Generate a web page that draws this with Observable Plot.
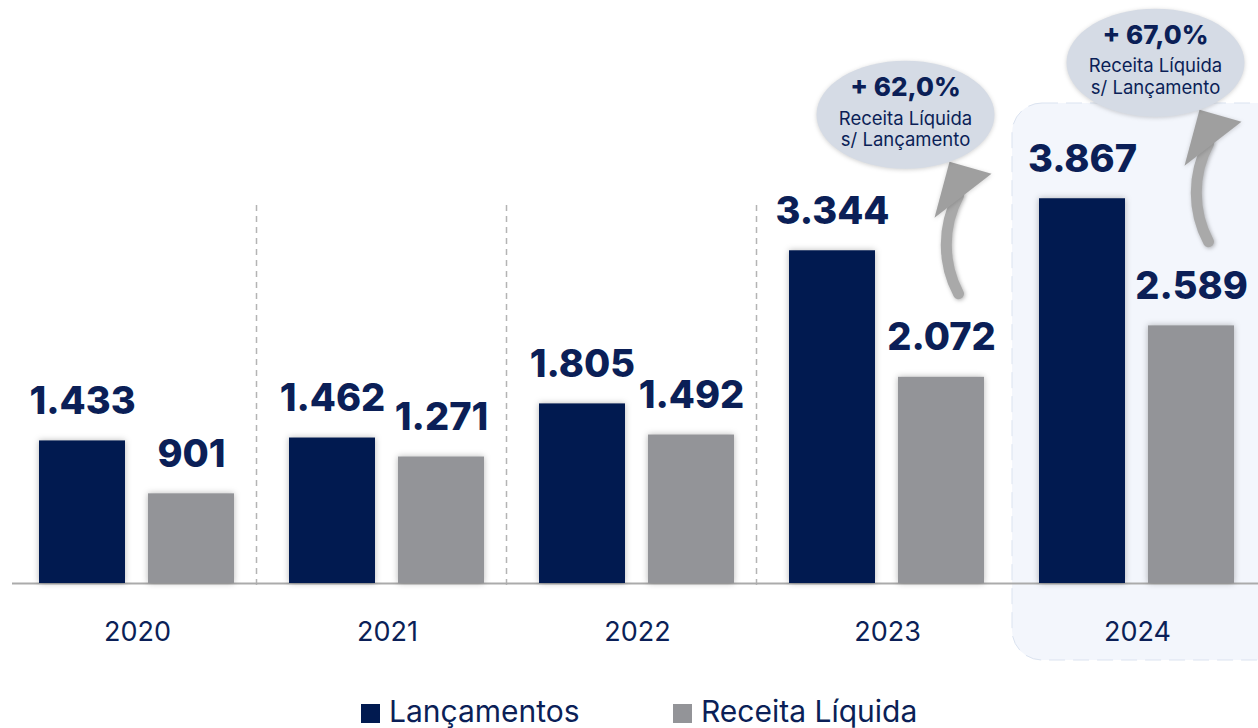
<!DOCTYPE html>
<html><head><meta charset="utf-8">
<script src="https://cdn.jsdelivr.net/npm/d3@7"></script>
<script src="https://cdn.jsdelivr.net/npm/@observablehq/plot@0.6"></script>
<style>
html,body{margin:0;padding:0;background:#fff;overflow:hidden;width:1258px;height:728px;}
#chart{width:1258px;height:690px;overflow:hidden;position:absolute;left:0;top:0;}
#chart svg{overflow:visible;max-width:none !important;}
#chart g[aria-label="bar"] rect{filter:drop-shadow(0 0 3px rgba(0,0,0,0.28));}
#chart g[aria-label="dot"] path{filter:drop-shadow(0 1px 2px rgba(0,0,0,0.18));}
#chart g[aria-label="arrow"] path{filter:drop-shadow(1px 1px 2px rgba(0,0,0,0.3));}
.legend{position:absolute;top:696px;left:0;width:1258px;height:32px;font-family:Inter,sans-serif;font-size:30px;line-height:30px;color:#0b1f57;}
.legend .item{position:absolute;top:0;display:flex;align-items:center;gap:9px;white-space:nowrap;}
.legend .sw{width:19px;height:19px;display:inline-block;margin-top:4px;}
</style></head><body>
<div id="chart"></div>
<div class="legend" id="legend"></div>
<script>
const years = ["2020", "2021", "2022", "2023", "2024"];
const seriesNames = ["Lançamentos", "Receita Líquida"];
const lancamentos = [1433, 1462, 1805, 3344, 3867];
const receita = [901, 1271, 1492, 2072, 2589];
const annotatedYears = ["2023", "2024"];
const annotationSubtitle = "Receita Líquida\ns/ Lançamento";
const highlightedYears = ["2024"];
const separatedYears = ["2021", "2022", "2023"];
const colors = ["#011a50", "#939498"];
const legendLeft = [361, 673];

const navy = "#0b1f57";
const locale = d3.formatLocale({decimal: ",", thousands: ".", grouping: [3], currency: ["R$", ""]});
const fmtInt = locale.format(",d");
const fmtPct = locale.format(".1%");

const rows = years.flatMap((y, i) => [
  {year: y, series: seriesNames[0], value: lancamentos[i]},
  {year: y, series: seriesNames[1], value: receita[i]}
]);
const ann = annotatedYears.map(y => {
  const i = years.indexOf(y);
  return {year: y, lanc: lancamentos[i], rec: receita[i], ratio: receita[i] / lancamentos[i]};
});
const highlight = highlightedYears.map(y => ({year: y}));
const seps = separatedYears.map(y => ({year: y}));

const ellipseSymbol = {
  draw(context) {
    const rx = 89, ry = 54, k = 0.5523;
    context.moveTo(rx, 0);
    context.bezierCurveTo(rx, ry * k, rx * k, ry, 0, ry);
    context.bezierCurveTo(-rx * k, ry, -rx, ry * k, -rx, 0);
    context.bezierCurveTo(-rx, -ry * k, -rx * k, -ry, 0, -ry);
    context.bezierCurveTo(rx * k, -ry, rx, -ry * k, rx, 0);
    context.closePath();
  }
};
// filled, slightly skewed arrow head (shape relative to its centroid)
const headSymbol = {
  draw(context) {
    context.moveTo(-9, -23);
    context.lineTo(33, -11);
    context.lineTo(-24, 33);
    context.closePath();
  }
};

const plot = Plot.plot({
  width: 1263, height: 690,
  marginLeft: 12, marginRight: 1, marginTop: 185, marginBottom: 107,
  fx: {domain: years, padding: 0, label: null},
  x: {domain: seriesNames, paddingInner: 0.209, paddingOuter: 0.241, axis: null},
  y: {domain: [0, 4000], axis: null},
  color: {domain: seriesNames, range: colors},
  style: {fontFamily: "Inter, sans-serif", overflow: "visible", background: "transparent"},
  marks: [
    Plot.rect(highlight, {fx: "year", fill: "#f3f6fc", stroke: "#dbe3f0", strokeDasharray: "16,8", rx: 30,
      insetTop: -82, insetBottom: -77, insetLeft: 0, insetRight: -30}),
    Plot.ruleX(seps, {fx: "year", x: () => seriesNames[0], dx: -76, stroke: "#b4b4b4",
      strokeDasharray: "6,5", strokeWidth: 1.5, insetTop: 20, insetBottom: -7}),
    Plot.ruleY([0], {stroke: "#ababab", strokeWidth: 2}),
    Plot.barY(rows, {fx: "year", x: "series", y: "value", fill: "series"}),
    Plot.text(rows, {fx: "year", x: "series", y: "value", text: d => fmtInt(d.value), dy: -27,
      lineAnchor: "bottom", fill: navy, fontSize: 38, fontWeight: 800}),
    Plot.arrow(ann, {fx: "year", x1: () => seriesNames[1], x2: () => seriesNames[1],
      y1: d => d.lanc - 432, y2: d => d.lanc + 553, dx: 17, bend: 28,
      stroke: "#a9a9a9", strokeWidth: 11, headLength: 0}),
    Plot.dot(ann, {fx: "year", x: () => seriesNames[1], y: "lanc", dx: 17, dy: -66, r: 1,
      symbol: headSymbol, fill: "#9f9f9f", stroke: "none"}),
    Plot.dot(ann, {fx: "year", y: "lanc", dx: 18, dy: -136, r: 1, symbol: ellipseSymbol,
      fill: "#d5dbe5", stroke: "none"}),
    Plot.text(ann, {fx: "year", y: "lanc", dx: 18, dy: -155, text: d => "+ " + fmtPct(d.ratio),
      lineAnchor: "bottom", fill: navy, fontSize: 26, fontWeight: 800}),
    Plot.text(ann, {fx: "year", y: "lanc", dx: 18, dy: -105, text: () => annotationSubtitle,
      lineAnchor: "bottom", lineHeight: 1.15, fill: navy, fontSize: 18.5}),
    Plot.axisFx({anchor: "bottom", tickSize: 0, tickPadding: 38, fontSize: 27, color: navy, label: null})
  ]
});
document.getElementById("chart").appendChild(plot);

const legend = document.getElementById("legend");
seriesNames.forEach((s, i) => {
  const item = document.createElement("div");
  item.className = "item";
  item.style.left = legendLeft[i] + "px";
  const sw = document.createElement("span");
  sw.className = "sw";
  sw.style.background = colors[i];
  const t = document.createElement("span");
  t.textContent = s;
  item.appendChild(sw);
  item.appendChild(t);
  legend.appendChild(item);
});
</script>
</body></html>
